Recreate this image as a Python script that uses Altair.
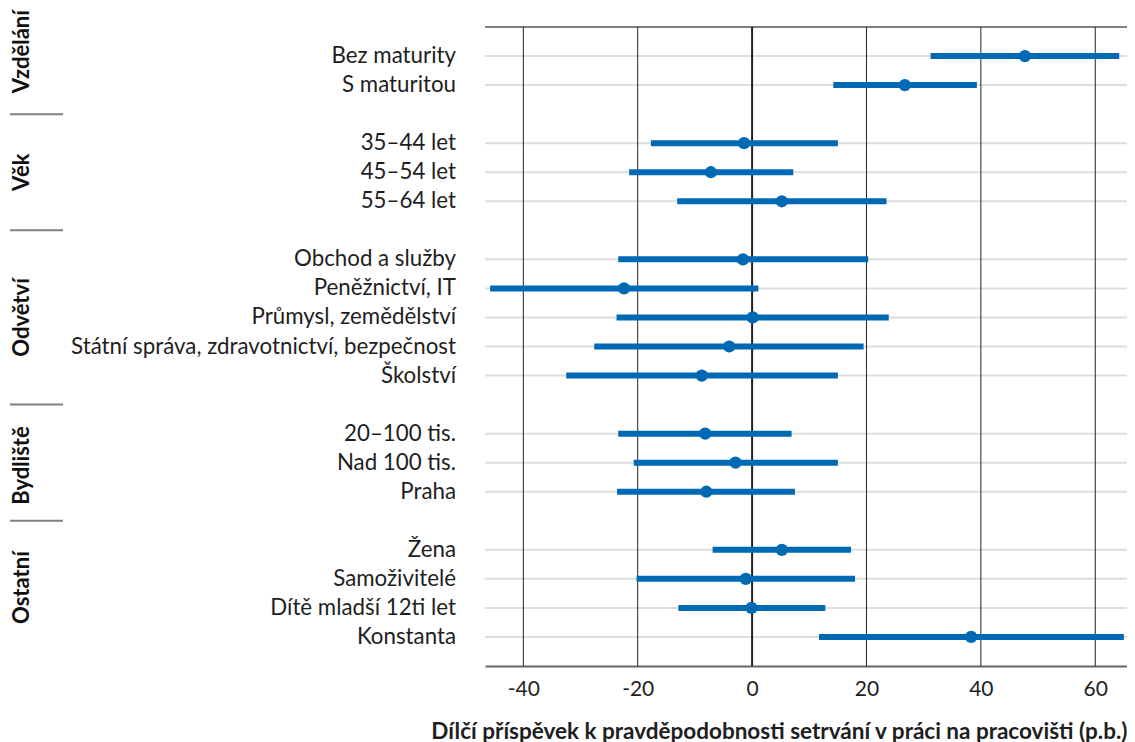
import altair as alt
import pandas as pd

# Skupiny a jejich kategorie (shora dolů)
groups = ["Vzdělání", "Věk", "Odvětví", "Bydliště", "Ostatní"]
group_items = [
    ["Bez maturity", "S maturitou"],
    ["35–44 let", "45–54 let", "55–64 let"],
    [
        "Obchod a služby",
        "Peněžnictví, IT",
        "Průmysl, zemědělství",
        "Státní správa, zdravotnictví, bezpečnost",
        "Školství",
    ],
    ["20–100 tis.", "Nad 100 tis.", "Praha"],
    ["Žena", "Samoživitelé", "Dítě mladší 12ti let", "Konstanta"],
]
# střed popisku skupiny v jednotkách řádků
group_centre = [-0.15, 4, 9, 14.1, 18.3]

# Bodový odhad a interval (p.b.)
estimate = [47.7, 26.7, -1.4, -7.2, 5.2, -1.6, -22.4, 0.1, -4.0, -8.8,
            -8.2, -2.9, -8.0, 5.2, -1.1, -0.1, 38.3]
lower = [31.2, 14.2, -17.7, -21.5, -13.1, -23.4, -45.8, -23.7, -27.6, -32.5,
         -23.4, -20.7, -23.6, -6.9, -20.2, -12.9, 11.7]
upper = [64.2, 39.3, 15.0, 7.2, 23.5, 20.3, 1.1, 23.9, 19.5, 15.0,
         6.9, 15.0, 7.5, 17.3, 18.0, 12.8, 65.0]

x_ticks = [-40, -20, 0, 20, 40, 60]

# pořadí řádků: mezi skupinami jeden prázdný řádek
rows, separators = [], []
r = 0
for gi, (g, items) in enumerate(zip(groups, group_items)):
    if gi > 0:
        separators.append(r)
        r += 1
    for it in items:
        rows.append({"label": it, "group": g, "row": r})
        r += 1

df = pd.DataFrame(rows)
df["est"] = estimate
df["lo"] = lower
df["hi"] = upper

groups_df = pd.DataFrame({"group": groups, "row": group_centre})

W, H = 642, 639
BLUE = "#0069b4"
TXT = "#1e1e1e"
FONT = "Lato"

x_scale = alt.Scale(domain=[-46.7, 65.55], nice=False, zero=False)
y_scale = alt.Scale(domain=[-1, 21], reverse=True, nice=False, zero=False)

base = alt.Chart(df)

row_lines = base.mark_rule(color="#dddddd", strokeWidth=2).encode(
    y=alt.Y("row:Q", scale=y_scale, axis=None),
    x=alt.value(0),
    x2=alt.value(W),
)

top_line = (
    alt.Chart(pd.DataFrame({"k": [0]}))
    .mark_rule(color="#808080", strokeWidth=2)
    .encode(y=alt.value(0), x=alt.value(0), x2=alt.value(W))
)

grid = (
    alt.Chart(pd.DataFrame({"v": x_ticks}))
    .mark_rule(color="#222222")
    .encode(
        x=alt.X(
            "v:Q",
            scale=x_scale,
            axis=alt.Axis(
                values=x_ticks,
                labelExpr="toString(datum.value)",
                ticks=False,
                grid=False,
                domainColor="#666666",
                domainWidth=2,
                labelFontSize=21,
                labelFont=FONT,
                labelColor=TXT,
                labelPadding=12,
                title="Dílčí příspěvek k pravděpodobnosti setrvání v práci na pracovišti (p.b.)",
                titleFont=FONT,
                titleFontSize=22.5,
                titleFontWeight="bold",
                titleColor=TXT,
                titleX=W,
                titleY=72,
                titleAlign="right",
                titleBaseline="alphabetic",
            ),
        ),
        strokeWidth=alt.condition("datum.v === 0", alt.value(2), alt.value(1)),
    )
)

bars = base.mark_rule(color=BLUE, strokeWidth=6).encode(
    x=alt.X("lo:Q", scale=x_scale),
    x2="hi:Q",
    y=alt.Y("row:Q", scale=y_scale),
)

points = base.mark_circle(color=BLUE, size=150, opacity=1).encode(
    x=alt.X("est:Q", scale=x_scale),
    y=alt.Y("row:Q", scale=y_scale),
)

row_labels = base.mark_text(
    align="right", baseline="middle", font=FONT, fontSize=22.3, color=TXT
).encode(
    x=alt.value(-29),
    y=alt.Y("row:Q", scale=y_scale),
    text="label:N",
)

group_labels = (
    alt.Chart(groups_df)
    .mark_text(
        angle=270,
        align="center",
        baseline="alphabetic",
        font=FONT,
        fontSize=22,
        fontWeight="bold",
        color="#111111",
    )
    .encode(
        x=alt.value(-456),
        y=alt.Y("row:Q", scale=y_scale),
        text="group:N",
    )
)

seps = (
    alt.Chart(pd.DataFrame({"row": separators}))
    .mark_rule(color="#808080", strokeWidth=2)
    .encode(
        y=alt.Y("row:Q", scale=y_scale),
        x=alt.value(-475),
        x2=alt.value(-422),
    )
)

chart = (
    alt.layer(row_lines, top_line, grid, bars, points, row_labels, group_labels, seps)
    .properties(
        width=W,
        height=H,
        autosize=alt.AutoSizeParams(type="none"),
        padding={"left": 477, "top": 19, "right": 0, "bottom": 76},
    )
    .configure_view(stroke=None)
)

chart.save("out.html", embed_options={"renderer": "svg", "actions": False})
